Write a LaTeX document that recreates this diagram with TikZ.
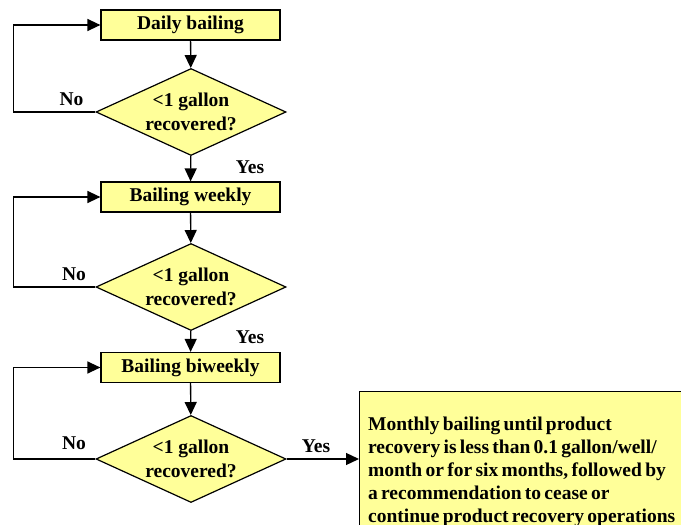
\documentclass[tikz,border=0pt]{standalone}
\usepackage{fontspec}
\setmainfont{Liberation Serif}
\usetikzlibrary{shapes.geometric,arrows.meta}
\definecolor{boxyellow}{HTML}{FFFF99}

\begin{document}
\begin{tikzpicture}[x=1pt,y=-1pt,
  every node/.append style={font=\fontsize{19.5}{24.5}\selectfont\bfseries, text=black},
  stepbox/.style={rectangle,draw,line width=1.2pt,fill=boxyellow,minimum width=179pt,minimum height=30pt,inner sep=0pt},
  check/.style={diamond,draw,line width=1.2pt,fill=boxyellow,aspect=2.18,minimum width=190pt,minimum height=87pt,inner sep=0pt,align=center},
  flow/.style={draw,line width=1.3pt,-{Triangle[length=13pt,width=12pt]}},
  tag/.style={inner sep=0pt,anchor=base}]
\clip (0,0) rectangle (681,525);
\node[stepbox] (daily) at (190.5,25) {Daily bailing};
\node[check] (q1) at (191,112) {<1 gallon\\recovered?};
\node[stepbox] (weekly) at (190.5,197) {Bailing weekly};
\node[check] (q2) at (191,287) {<1 gallon\\recovered?};
\node[stepbox] (biweekly) at (190.5,367.5) {Bailing biweekly};
\node[check] (q3) at (191,459) {<1 gallon\\recovered?};
\node[rectangle,draw,line width=1.2pt,fill=boxyellow,anchor=north west,text width=318pt,
  minimum height=160pt,inner xsep=8.5pt,inner ysep=13pt,align=flush left,
  font=\fontsize{19.5}{23}\selectfont\bfseries] (monthly) at (359,391)
  {\spaceskip=0.17em plus 0.05em minus 0.03em\relax
   Monthly bailing until product\\recovery is less than 0.1 gallon/well/\\month or for six months, followed by\\a recommendation to cease or\\continue product recovery operations};

\draw[flow] (daily) -- (q1);
\draw[flow] (q1) -- (weekly);
\draw[flow] (weekly) -- (q2);
\draw[flow] (q2) -- (biweekly);
\draw[flow] (biweekly) -- (q3);
\draw[flow] (q3.east) -- (q3.east -| monthly.west);
\draw[flow] (q1.west) -- ++(-82,0) |- (daily.west);
\draw[flow] (q2.west) -- ++(-82,0) |- (weekly.west);
\draw[flow] (q3.west) -- ++(-82,0) |- (biweekly.west);

\node[tag] (no1) at (71.5,105) {No};
\node[tag] (yes1) at (250,173) {Yes};
\node[tag] (no2) at (74,280) {No};
\node[tag] (yes2) at (250,343) {Yes};
\node[tag] (no3) at (74,449) {No};
\node[tag] (yes3) at (316,452) {Yes};
\end{tikzpicture}
\end{document}
